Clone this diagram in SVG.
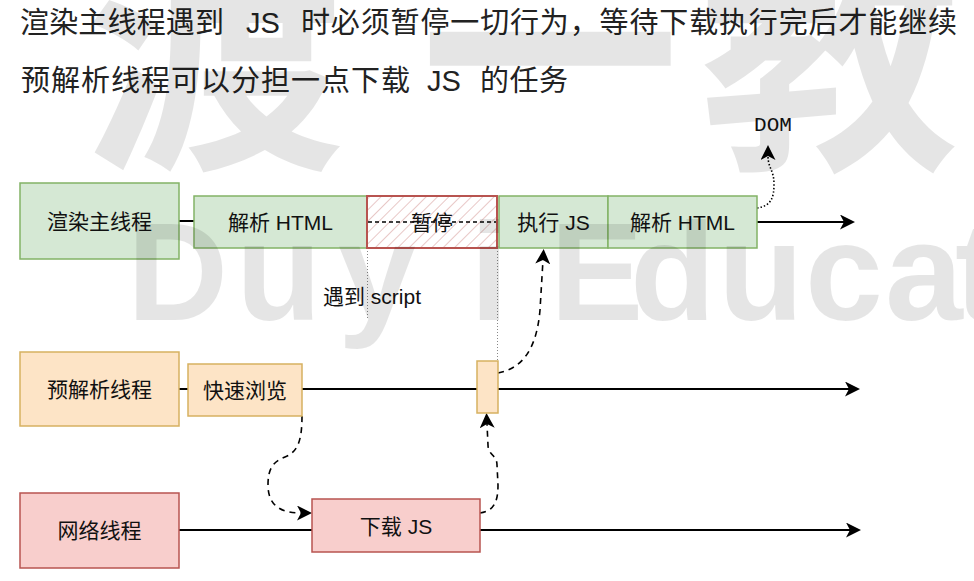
<svg xmlns="http://www.w3.org/2000/svg" width="974" height="581" viewBox="0 0 974 581">
<style>
  .lbl { font-family: "Liberation Sans", "Noto Sans CJK SC", sans-serif; font-size: 21px; fill: #111; text-anchor: middle; dominant-baseline: central; }
  .head { font-family: "Liberation Sans", "Noto Sans CJK SC", sans-serif; font-size: 29px; fill: #222; }
  .mono { font-family: "Liberation Mono", monospace; font-size: 21px; fill: #111; text-anchor: middle; }
  .green { fill: #d5e8d4; stroke: #82b366; stroke-width: 1.5; }
  .orange { fill: #fde4c6; stroke: #d6b160; stroke-width: 1.5; }
  .pink { fill: #f8cecc; stroke: #b85450; stroke-width: 1.5; }
  .lane { fill: none; stroke: #000; stroke-width: 2; }
  .dash { fill: none; stroke: #000; stroke-width: 1.6; stroke-dasharray: 6 5; }
  .dot { fill: none; stroke: #000; stroke-width: 1.6; stroke-dasharray: 1.5 2; }
  .guide { fill: none; stroke: #888; stroke-width: 1; stroke-dasharray: 1 2; }
  .wm { fill: #000; fill-opacity: 0.1; }
</style>
<defs>
  <marker id="arr" viewBox="0 0 15 15" refX="4" refY="7.5" markerWidth="15" markerHeight="15" markerUnits="userSpaceOnUse" orient="auto">
    <path d="M0,0 L15,7.5 L0,15 L4,7.5 Z" fill="#000"/>
  </marker>
  <pattern id="hatch" width="8" height="8" patternUnits="userSpaceOnUse" patternTransform="rotate(45)">
    <line x1="0" y1="0" x2="0" y2="8" stroke="#d9a3a1" stroke-width="1.2"/>
  </pattern>
</defs>
<rect width="974" height="581" fill="#fff"/>

<g id="headings">
  <text class="head" y="33"><tspan x="20" textLength="204" lengthAdjust="spacing">渲染主线程遇到</tspan><tspan x="246">JS</tspan><tspan x="301" textLength="656" lengthAdjust="spacing">时必须暂停一切行为，等待下载执行完后才能继续</tspan></text>
  <text class="head" y="91"><tspan x="21" textLength="389" lengthAdjust="spacing">预解析线程可以分担一点下载</tspan><tspan x="427">JS</tspan><tspan x="480" textLength="88" lengthAdjust="spacing">的任务</tspan></text>
</g>

<g id="connectors">
  <line class="lane" x1="179" y1="221" x2="194" y2="221"/>
  <path class="lane" d="M757,222 L844,222" marker-end="url(#arr)"/>
  <path class="lane" d="M179,389 L849,389" marker-end="url(#arr)"/>
  <path class="lane" d="M179,530 L850,530" marker-end="url(#arr)"/>
  <line class="guide" x1="367.5" y1="248" x2="367.5" y2="318"/>
  <line class="guide" x1="497.5" y1="248" x2="497.5" y2="361"/>
  <path class="dash" d="M302,416 C302,440 298,452 285,457 C272,462 268,470 268,485 C268,505 280,513 301,513" marker-end="url(#arr)"/>
  <path class="dash" d="M480,513 C495,511 498,500 498,485 L497,465 C497,455 488,455 488,445 L487,424" marker-end="url(#arr)"/>
  <path class="dash" d="M498,373 C525,368 537,345 540,310 L543,260" marker-end="url(#arr)"/>
  <path class="dot" d="M757,208 C771,206 774,198 774,184 C774,170 768,168 768,156" marker-end="url(#arr)"/>
</g>

<g id="main-thread">
  <rect class="green" x="20" y="183" width="159" height="76"/>
  <text class="lbl" x="99.5" y="221">渲染主线程</text>
</g>
<g id="parse-html-1">
  <rect class="green" x="194" y="196" width="173" height="52"/>
  <text class="lbl" x="280.5" y="222">解析 HTML</text>
</g>
<g id="pause">
  <rect x="367" y="196" width="130" height="52" fill="#fff"/>
  <rect x="367" y="196" width="130" height="52" fill="url(#hatch)" stroke="#b85450" stroke-width="2"/>
  <line x1="368" y1="222" x2="496" y2="222" stroke="#000" stroke-width="1.3" stroke-dasharray="4 3"/>
  <text class="lbl" x="432" y="222">暂停</text>
</g>
<g id="exec-js">
  <rect class="green" x="499" y="196" width="109" height="52"/>
  <text class="lbl" x="553.5" y="222">执行 JS</text>
</g>
<g id="parse-html-2">
  <rect class="green" x="608" y="196" width="149" height="52"/>
  <text class="lbl" x="682.5" y="222">解析 HTML</text>
</g>
<g id="dom">
  <text class="mono" x="773" y="131">DOM</text>
</g>
<g id="encounter-script">
  <text class="lbl" x="372" y="296">遇到 script</text>
</g>
<g id="preparse-thread">
  <rect class="orange" x="20" y="352" width="159" height="74"/>
  <text class="lbl" x="99.5" y="389">预解析线程</text>
</g>
<g id="quick-scan">
  <rect class="orange" x="188" y="364" width="114" height="52"/>
  <text class="lbl" x="245" y="390">快速浏览</text>
</g>
<g id="small-task">
  <rect class="orange" x="477" y="361" width="21" height="52"/>
</g>
<g id="network-thread">
  <rect class="pink" x="20" y="493" width="159" height="75"/>
  <text class="lbl" x="99.5" y="530">网络线程</text>
</g>
<g id="download-js">
  <rect class="pink" x="312" y="499" width="168" height="53"/>
  <text class="lbl" x="396" y="526">下载 JS</text>
</g>

<g id="watermark">
  <text class="wm" font-family="Noto Sans CJK SC, sans-serif" font-weight="bold" font-size="260" y="150"><tspan x="85">渡</tspan><tspan x="420">一</tspan><tspan x="700">教</tspan></text>
  <text class="wm" font-family="Liberation Sans, sans-serif" font-weight="bold" font-size="140" y="320"><tspan x="127 236 338 470">Duyi</tspan><tspan x="550 630 718 805 885 955">Educat</tspan></text>
</g>
</svg>
